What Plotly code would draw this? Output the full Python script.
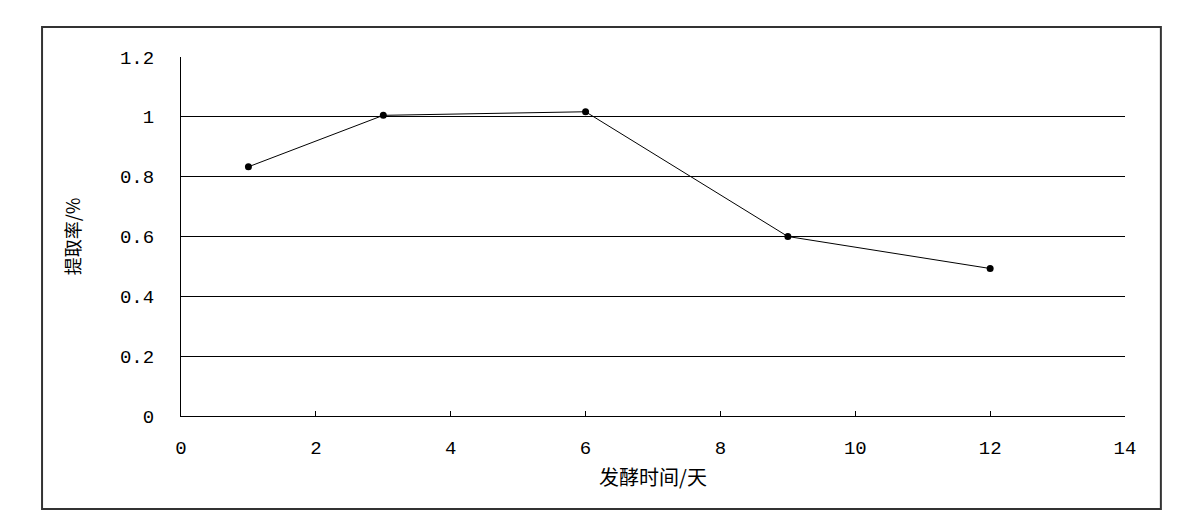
import plotly.graph_objects as go

# fermentation time (days) vs extraction rate
days = [1, 3, 6, 9, 12]
rate = [0.833, 1.005, 1.017, 0.60, 0.493]

x_ticks = [0, 2, 4, 6, 8, 10, 12, 14]
y_ticks = [0, 0.2, 0.4, 0.6, 0.8, 1, 1.2]
y_tick_text = ["0", "0.2", "0.4", "0.6", "0.8", "1", "1.2"]

mono = "Liberation Mono, DejaVu Sans Mono, monospace"
cjk = "Noto Sans CJK SC"

fig = go.Figure()
fig.add_trace(go.Scatter(
    x=days, y=rate, mode="lines+markers",
    line=dict(color="black", width=1),
    marker=dict(color="black", size=7, symbol="circle"),
    showlegend=False,
))

fig.update_xaxes(
    range=[0, 14], tickvals=x_ticks, ticktext=[str(v) for v in x_ticks],
    showgrid=False, zeroline=False,
    showline=True, linecolor="black", linewidth=1,
    ticks="inside", ticklen=5, tickcolor="black",
    ticklabelstandoff=14,
    tickfont=dict(family=mono, size=19, color="black"),
    title=dict(text="发酵时间/天", font=dict(family=cjk, size=20, color="black"), standoff=12),
)
fig.update_yaxes(
    range=[0, 1.2], tickvals=y_ticks, ticktext=y_tick_text,
    showgrid=True, gridcolor="black", gridwidth=1, zeroline=False,
    showline=True, linecolor="black", linewidth=1,
    ticks="inside", ticklen=5, tickcolor="black",
    ticklabelstandoff=22,
    tickfont=dict(family=mono, size=19, color="black"),
    title=dict(text="提取率/%", font=dict(family=cjk, size=18, color="black"), standoff=34),
)

fig.update_layout(
    width=1175, height=522,
    margin=dict(l=173, r=58, t=49, b=114),
    plot_bgcolor="white", paper_bgcolor="white",
    shapes=[dict(
        type="rect", xref="paper", yref="paper",
        x0=-0.1472, x1=1.038, y0=-0.259, y1=1.0836,
        line=dict(color="#333333", width=2), layer="below",
    )],
)

fig.write_html("out.html")
